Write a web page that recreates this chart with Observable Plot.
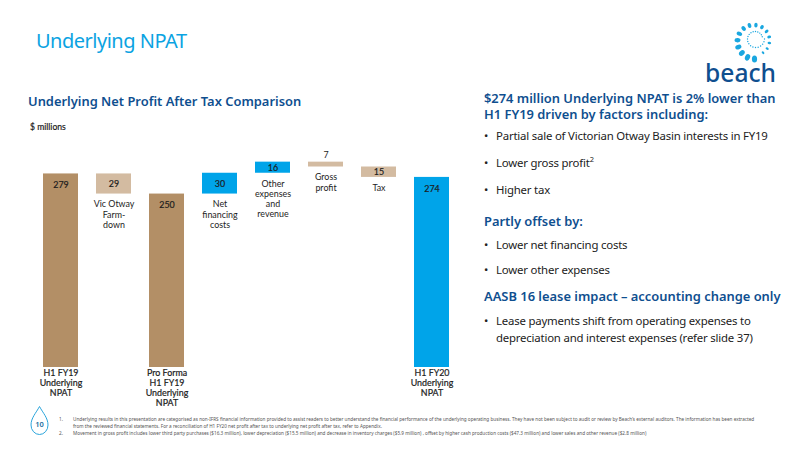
<!DOCTYPE html>
<html><head><meta charset="utf-8">
<script src="https://cdn.jsdelivr.net/npm/d3@7"></script>
<script src="https://cdn.jsdelivr.net/npm/@observablehq/plot@0.6"></script>
<style>
html,body{margin:0;padding:0;background:#fff;width:800px;height:450px;overflow:hidden;font-family:"Noto Sans",sans-serif}
#chart{position:absolute;left:0;top:0}
.t{position:absolute;white-space:nowrap}
.title{left:36px;top:26px;font-size:20px;letter-spacing:-.5px;line-height:30px;color:#0ba3e2}
.h{color:#0f4f8f;font-weight:600;font-size:12.9px;line-height:16px}
.b{left:496px;font-size:11.4px;letter-spacing:-.2px;line-height:17px;color:#222}
.b.bu::before{content:"•";position:absolute;left:-12px}
.fn{left:73px;font-size:4.67px;line-height:6px;color:#555}
.n{left:59px;font-size:4.67px;line-height:6px;color:#555}
sup{font-size:7.5px;line-height:0}
</style></head><body>
<div id="chart"></div>
<div class="t title">Underlying NPAT</div>
<div class="t h" style="left:28px;top:93px">Underlying Net Profit After Tax Comparison</div>
<div class="t" style="left:30px;top:121px;font-size:8.6px;line-height:12px;color:#1c1c1c;font-family:Lato;-webkit-text-stroke:.2px #1c1c1c">$ millions</div>
<div class="t h" style="left:484px;top:90px">$274 million Underlying NPAT is 2% lower than<br>H1 FY19 driven by factors including:</div>
<div class="t b bu" style="top:127px">Partial sale of Victorian Otway Basin interests in FY19</div>
<div class="t b bu" style="top:154px">Lower gross profit<sup>2</sup></div>
<div class="t b bu" style="top:181px">Higher tax</div>
<div class="t h" style="left:484px;top:213px">Partly offset by:</div>
<div class="t b bu" style="top:236px">Lower net financing costs</div>
<div class="t b bu" style="top:261px">Lower other expenses</div>
<div class="t h" style="left:484px;top:288px">AASB 16 lease impact – accounting change only</div>
<div class="t b bu" style="top:312px">Lease payments shift from operating expenses to</div>
<div class="t b" style="top:329px">depreciation and interest expenses (refer slide 37)</div>
<div class="t n" style="top:416px">1.</div>
<div class="t fn" style="top:416px">Underlying results in this presentation are categorised as non-IFRS financial information provided to assist readers to better understand the financial performance of the underlying operating business. They have not been subject to audit or review by Beach’s external auditors. The information has been extracted</div>
<div class="t fn" style="top:422.5px">from the reviewed financial statements. For a reconciliation of H1 FY20 net profit after tax to underlying net profit after tax, refer to Appendix.</div>
<div class="t n" style="top:430px">2.</div>
<div class="t fn" style="top:430px">Movement in gross profit includes lower third party purchases ($16.3 million), lower depreciation ($15.5 million) and decrease in inventory charges ($5.9 million) , offset by higher cash production costs ($47.3 million) and lower sales and other revenue ($2.8 million)</div>
<svg id="deco" width="800" height="450" style="position:absolute;left:0;top:0;pointer-events:none">
  <path d="M39.500 406.500 C43 413 48 418 48 425 A8.500 9.500 0 0 1 31 425 C31 418 36 413 39.500 406.500 Z" fill="#fff" stroke="#2aa5dc" stroke-width="1"/>
  <text x="39.500" y="427" text-anchor="middle" font-size="7.500" font-weight="600" fill="#1a6f9f">10</text>
  <g id="spiral" fill="#1aa7e0"></g>
  <text x="705" y="82" font-size="26" font-weight="500" fill="#0f4f8f" textLength="71" lengthAdjust="spacingAndGlyphs">beach</text>
</svg>
<script>
const categories = ["H1 FY19","Vic Otway","Pro Forma","Net financing","Other expenses","Gross profit","Tax","H1 FY20"];
const values = [279,29,250,30,16,7,15,274];
const kinds = ["prior","decrease","prior","increase","increase","decrease","decrease","current"];
const captions = ["H1 FY19\nUnderlying\nNPAT","Vic Otway\nFarm-\ndown","Pro Forma\nH1 FY19\nUnderlying\nNPAT","Net\nfinancing\ncosts","Other\nexpenses\nand\nrevenue","Gross\nprofit","Tax","H1 FY20\nUnderlying\nNPAT"];
const kindNames = ["prior","decrease","increase","current"];
const kindColors = ["#b38f66","#d3bba1","#00a4e9","#00a4e9"];

let run = 0;
const rows = categories.map((c,i)=>{
  const v = values[i], k = kinds[i];
  let lo, hi;
  if (k==="prior"||k==="current"){lo=0;hi=v;run=v;}
  else if (k==="increase"){lo=run;hi=run+v;run=hi;}
  else {hi=run;lo=run-v;run=lo;}
  return {c,v,k,lo,hi,caption:captions[i],total:lo===0,small:v<10};
});
const isTotal = d=>d.total;
const font = {fontSize:8.9,fill:"#1c1c1c",lineHeight:1.15};
const medium = {stroke:"#1c1c1c",strokeWidth:0.2};
const plot = Plot.plot({
  width:800,height:450,
  marginLeft:25,marginRight:332.7,marginTop:0,marginBottom:83,
  style:{background:"transparent",fontFamily:'Lato,sans-serif'},
  x:{domain:categories,padding:1/3,axis:null},
  y:{domain:[0,529],axis:null},
  color:{domain:kindNames,range:kindColors},
  marks:[
    Plot.barY(rows,{x:"c",y1:"lo",y2:"hi",fill:"k"}),
    Plot.text(rows.filter(isTotal),{x:"c",y:"hi",text:d=>String(d.v),dy:11,...font,...medium}),
    Plot.text(rows.filter(d=>!d.total&&!d.small),{x:"c",y:d=>(d.lo+d.hi)/2,text:d=>String(d.v),...font,...medium}),
    Plot.text(rows.filter(d=>d.small),{x:"c",y:"hi",text:d=>String(d.v),dy:-7,...font}),
    Plot.text(rows.filter(d=>!d.total),{x:"c",y:"lo",text:"caption",lineAnchor:"top",dy:6,...font}),
    Plot.text(rows.filter(isTotal),{x:"c",y:0,text:"caption",lineAnchor:"top",dy:1,...font,...medium})
  ]
});
document.getElementById("chart").append(plot);

// decorative logo spiral: large drops shrinking clockwise from the bottom, then a ring of fine dots
const g = document.getElementById("spiral");
const NS="http://www.w3.org/2000/svg";
for(let i=0;i<15;i++){
  const ang=Math.PI*0.5+(i/14)*Math.PI*1.8;
  const r=18-i*0.25;
  const e=document.createElementNS(NS,"ellipse");
  const px=754.5+r*Math.cos(ang), py=41+r*Math.sin(ang);
  e.setAttribute("cx",px);
  e.setAttribute("cy",py);
  e.setAttribute("rx",3.6-i*0.15);
  e.setAttribute("ry",2.6-i*0.11);
  e.setAttribute("transform",`rotate(${ang*180/Math.PI} ${px} ${py})`);
  g.append(e);
}
for(let i=0;i<20;i++){
  const a=(i/20)*Math.PI*2;
  const r=9-i*0.1;
  const e=document.createElementNS(NS,"circle");
  e.setAttribute("cx",755.5+r*Math.cos(a));
  e.setAttribute("cy",39+r*Math.sin(a));
  e.setAttribute("r",0.7);
  g.append(e);
}
</script>
</body></html>
